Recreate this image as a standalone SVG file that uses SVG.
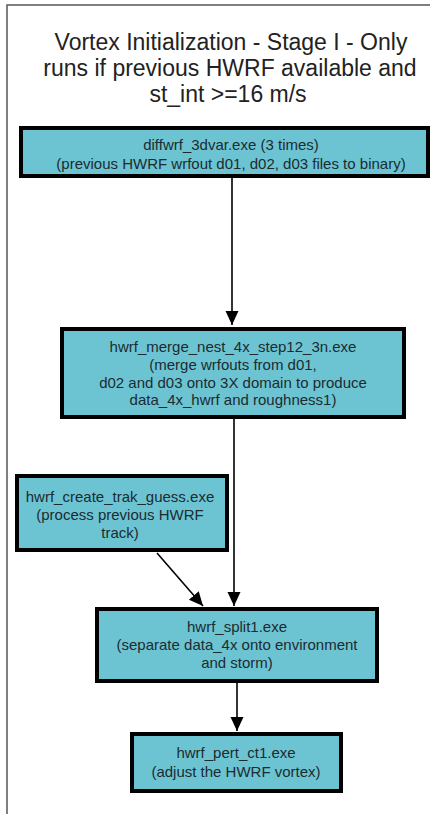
<svg xmlns="http://www.w3.org/2000/svg" width="430" height="814" viewBox="0 0 430 814">
<style>
.title{font-family:"Liberation Sans",Arial,sans-serif;font-size:23px;fill:#222;text-anchor:middle}
.box{fill:#6cc4d2;stroke:#000;stroke-width:4}
.lbl{font-family:"Liberation Sans",Arial,sans-serif;font-size:15px;fill:#1d2b30;text-anchor:middle}
.edge{stroke:#000;stroke-width:1.6;fill:none;marker-end:url(#arr)}
.frame{stroke:#555;stroke-width:1.5;fill:none}
</style>
<defs>
<marker id="arr" markerUnits="userSpaceOnUse" markerWidth="14" markerHeight="16" viewBox="0 0 14 16" refX="14" refY="8" orient="auto">
<path d="M0,1.5 L14,8 L0,14.5 Z" fill="#000"/>
</marker>
</defs>
<rect width="430" height="814" fill="#fff"/>
<path class="frame" d="M7,814 L7,5 L430,5"/>
<g id="title">
<text class="title" x="231" y="50">Vortex Initialization - Stage I - Only</text>
<text class="title" x="230" y="76">runs if previous HWRF available and</text>
<text class="title" x="228" y="102">st_int &gt;=16 m/s</text>
</g>
<g id="connectors">
<line class="edge" x1="232" y1="178" x2="232" y2="325"/>
<line class="edge" x1="234" y1="419" x2="234" y2="606"/>
<line class="edge" x1="157" y1="553" x2="203" y2="606"/>
<line class="edge" x1="237" y1="683" x2="237" y2="731"/>
</g>
<g id="diffwrf">
<rect class="box" x="21" y="128" width="407" height="48"/>
<text class="lbl" x="231" y="150">diffwrf_3dvar.exe (3 times)</text>
<text class="lbl" x="231" y="169">(previous HWRF wrfout d01, d02, d03 files to binary)</text>
</g>
<g id="merge">
<rect class="box" x="62" y="329" width="342" height="88"/>
<text class="lbl" x="233" y="352">hwrf_merge_nest_4x_step12_3n.exe</text>
<text class="lbl" x="233" y="370">(merge wrfouts from d01,</text>
<text class="lbl" x="233" y="388">d02 and d03 onto 3X domain to produce</text>
<text class="lbl" x="233" y="405">data_4x_hwrf and roughness1)</text>
</g>
<g id="trak">
<rect class="box" x="17" y="476" width="210" height="74"/>
<text class="lbl" x="120" y="502">hwrf_create_trak_guess.exe</text>
<text class="lbl" x="120" y="520">(process previous HWRF</text>
<text class="lbl" x="120" y="538">track)</text>
</g>
<g id="split">
<rect class="box" x="97" y="609" width="280" height="72"/>
<text class="lbl" x="237" y="632">hwrf_split1.exe</text>
<text class="lbl" x="237" y="650">(separate data_4x onto environment</text>
<text class="lbl" x="237" y="668">and storm)</text>
</g>
<g id="pert">
<rect class="box" x="132" y="734" width="209" height="57"/>
<text class="lbl" x="236" y="758">hwrf_pert_ct1.exe</text>
<text class="lbl" x="236" y="777">(adjust the HWRF vortex)</text>
</g>
</svg>
